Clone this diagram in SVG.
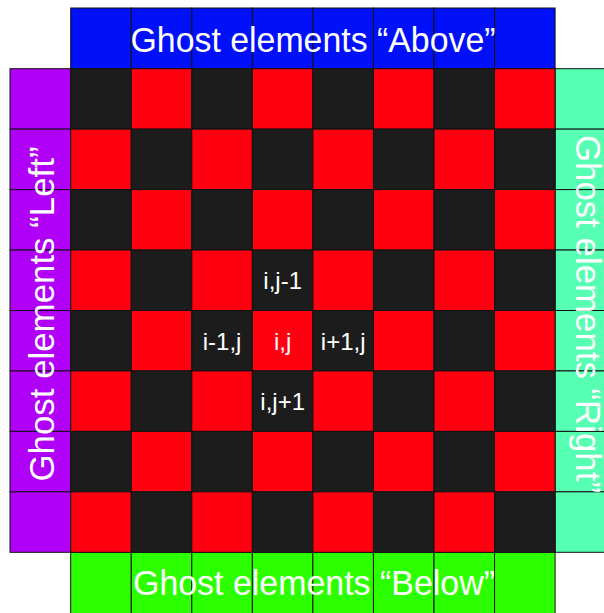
<svg xmlns="http://www.w3.org/2000/svg" width="604" height="613" viewBox="0 0 604 613">
  <style>
    .cell { stroke: #111; stroke-width: 1; }
    .blk { fill: #1c1c1c; }
    .red { fill: #ff0010; }
    .above { fill: #0010f8; stroke: #111; stroke-width: 1; }
    .below { fill: #2cff00; stroke: #111; stroke-width: 1; }
    .left { fill: #b000f8; stroke: #111; stroke-width: 1; }
    .right { fill: #57ffb2; stroke: #111; stroke-width: 1; }
    .ghost-label { font-family: "Liberation Sans", Arial, sans-serif; font-size: 35px; fill: #ffffff; text-anchor: middle; }
    .idx { font-family: "Liberation Sans", Arial, sans-serif; font-size: 24px; fill: #ffffff; text-anchor: middle; }
  </style>
  <rect width="604" height="613" fill="#ffffff"/>

  <!-- ghost row above the grid -->
  <g id="ghost-above">
    <rect class="above" x="70.7" y="8" width="60.55" height="60.7"/>
    <rect class="above" x="131.25" y="8" width="60.55" height="60.7"/>
    <rect class="above" x="191.8" y="8" width="60.55" height="60.7"/>
    <rect class="above" x="252.35" y="8" width="60.55" height="60.7"/>
    <rect class="above" x="312.9" y="8" width="60.55" height="60.7"/>
    <rect class="above" x="373.45" y="8" width="60.55" height="60.7"/>
    <rect class="above" x="434" y="8" width="60.55" height="60.7"/>
    <rect class="above" x="494.55" y="8" width="60.55" height="60.7"/>
    <text class="ghost-label" x="313" y="52" textLength="365" lengthAdjust="spacingAndGlyphs">Ghost elements “Above”</text>
  </g>

  <!-- ghost row below the grid -->
  <g id="ghost-below">
    <rect class="below" x="70.7" y="552.3" width="60.55" height="70"/>
    <rect class="below" x="131.25" y="552.3" width="60.55" height="70"/>
    <rect class="below" x="191.8" y="552.3" width="60.55" height="70"/>
    <rect class="below" x="252.35" y="552.3" width="60.55" height="70"/>
    <rect class="below" x="312.9" y="552.3" width="60.55" height="70"/>
    <rect class="below" x="373.45" y="552.3" width="60.55" height="70"/>
    <rect class="below" x="434" y="552.3" width="60.55" height="70"/>
    <rect class="below" x="494.55" y="552.3" width="60.55" height="70"/>
    <text class="ghost-label" x="314" y="595" textLength="362" lengthAdjust="spacingAndGlyphs">Ghost elements “Below”</text>
  </g>

  <!-- ghost column to the left -->
  <g id="ghost-left">
    <rect class="left" x="10" y="68.7" width="60.7" height="60.45"/>
    <rect class="left" x="10" y="129.15" width="60.7" height="60.45"/>
    <rect class="left" x="10" y="189.6" width="60.7" height="60.45"/>
    <rect class="left" x="10" y="250.05" width="60.7" height="60.45"/>
    <rect class="left" x="10" y="310.5" width="60.7" height="60.45"/>
    <rect class="left" x="10" y="370.95" width="60.7" height="60.45"/>
    <rect class="left" x="10" y="431.4" width="60.7" height="60.45"/>
    <rect class="left" x="10" y="491.85" width="60.7" height="60.45"/>
    <text class="ghost-label" transform="translate(53.5,314) rotate(-90)" x="0" y="0" textLength="335" lengthAdjust="spacingAndGlyphs">Ghost elements “Left”</text>
  </g>

  <!-- ghost column to the right -->
  <g id="ghost-right">
    <rect class="right" x="555.1" y="68.7" width="60" height="60.45"/>
    <rect class="right" x="555.1" y="129.15" width="60" height="60.45"/>
    <rect class="right" x="555.1" y="189.6" width="60" height="60.45"/>
    <rect class="right" x="555.1" y="250.05" width="60" height="60.45"/>
    <rect class="right" x="555.1" y="310.5" width="60" height="60.45"/>
    <rect class="right" x="555.1" y="370.95" width="60" height="60.45"/>
    <rect class="right" x="555.1" y="431.4" width="60" height="60.45"/>
    <rect class="right" x="555.1" y="491.85" width="60" height="60.45"/>
    <text class="ghost-label" transform="translate(576,314) rotate(90)" x="0" y="0" textLength="358" lengthAdjust="spacingAndGlyphs">Ghost elements “Right”</text>
  </g>

  <!-- 8x8 checkerboard of interior cells -->
  <g id="grid">
    <!-- row 0 -->
    <rect class="cell blk" x="70.7" y="68.7" width="60.55" height="60.45"/>
    <rect class="cell red" x="131.25" y="68.7" width="60.55" height="60.45"/>
    <rect class="cell blk" x="191.8" y="68.7" width="60.55" height="60.45"/>
    <rect class="cell red" x="252.35" y="68.7" width="60.55" height="60.45"/>
    <rect class="cell blk" x="312.9" y="68.7" width="60.55" height="60.45"/>
    <rect class="cell red" x="373.45" y="68.7" width="60.55" height="60.45"/>
    <rect class="cell blk" x="434" y="68.7" width="60.55" height="60.45"/>
    <rect class="cell red" x="494.55" y="68.7" width="60.55" height="60.45"/>
    <!-- row 1 -->
    <rect class="cell red" x="70.7" y="129.15" width="60.55" height="60.45"/>
    <rect class="cell blk" x="131.25" y="129.15" width="60.55" height="60.45"/>
    <rect class="cell red" x="191.8" y="129.15" width="60.55" height="60.45"/>
    <rect class="cell blk" x="252.35" y="129.15" width="60.55" height="60.45"/>
    <rect class="cell red" x="312.9" y="129.15" width="60.55" height="60.45"/>
    <rect class="cell blk" x="373.45" y="129.15" width="60.55" height="60.45"/>
    <rect class="cell red" x="434" y="129.15" width="60.55" height="60.45"/>
    <rect class="cell blk" x="494.55" y="129.15" width="60.55" height="60.45"/>
    <!-- row 2 -->
    <rect class="cell blk" x="70.7" y="189.6" width="60.55" height="60.45"/>
    <rect class="cell red" x="131.25" y="189.6" width="60.55" height="60.45"/>
    <rect class="cell blk" x="191.8" y="189.6" width="60.55" height="60.45"/>
    <rect class="cell red" x="252.35" y="189.6" width="60.55" height="60.45"/>
    <rect class="cell blk" x="312.9" y="189.6" width="60.55" height="60.45"/>
    <rect class="cell red" x="373.45" y="189.6" width="60.55" height="60.45"/>
    <rect class="cell blk" x="434" y="189.6" width="60.55" height="60.45"/>
    <rect class="cell red" x="494.55" y="189.6" width="60.55" height="60.45"/>
    <!-- row 3 -->
    <rect class="cell red" x="70.7" y="250.05" width="60.55" height="60.45"/>
    <rect class="cell blk" x="131.25" y="250.05" width="60.55" height="60.45"/>
    <rect class="cell red" x="191.8" y="250.05" width="60.55" height="60.45"/>
    <rect class="cell blk" x="252.35" y="250.05" width="60.55" height="60.45"/>
    <rect class="cell red" x="312.9" y="250.05" width="60.55" height="60.45"/>
    <rect class="cell blk" x="373.45" y="250.05" width="60.55" height="60.45"/>
    <rect class="cell red" x="434" y="250.05" width="60.55" height="60.45"/>
    <rect class="cell blk" x="494.55" y="250.05" width="60.55" height="60.45"/>
    <!-- row 4 -->
    <rect class="cell blk" x="70.7" y="310.5" width="60.55" height="60.45"/>
    <rect class="cell red" x="131.25" y="310.5" width="60.55" height="60.45"/>
    <rect class="cell blk" x="191.8" y="310.5" width="60.55" height="60.45"/>
    <rect class="cell red" x="252.35" y="310.5" width="60.55" height="60.45"/>
    <rect class="cell blk" x="312.9" y="310.5" width="60.55" height="60.45"/>
    <rect class="cell red" x="373.45" y="310.5" width="60.55" height="60.45"/>
    <rect class="cell blk" x="434" y="310.5" width="60.55" height="60.45"/>
    <rect class="cell red" x="494.55" y="310.5" width="60.55" height="60.45"/>
    <!-- row 5 -->
    <rect class="cell red" x="70.7" y="370.95" width="60.55" height="60.45"/>
    <rect class="cell blk" x="131.25" y="370.95" width="60.55" height="60.45"/>
    <rect class="cell red" x="191.8" y="370.95" width="60.55" height="60.45"/>
    <rect class="cell blk" x="252.35" y="370.95" width="60.55" height="60.45"/>
    <rect class="cell red" x="312.9" y="370.95" width="60.55" height="60.45"/>
    <rect class="cell blk" x="373.45" y="370.95" width="60.55" height="60.45"/>
    <rect class="cell red" x="434" y="370.95" width="60.55" height="60.45"/>
    <rect class="cell blk" x="494.55" y="370.95" width="60.55" height="60.45"/>
    <!-- row 6 -->
    <rect class="cell blk" x="70.7" y="431.4" width="60.55" height="60.45"/>
    <rect class="cell red" x="131.25" y="431.4" width="60.55" height="60.45"/>
    <rect class="cell blk" x="191.8" y="431.4" width="60.55" height="60.45"/>
    <rect class="cell red" x="252.35" y="431.4" width="60.55" height="60.45"/>
    <rect class="cell blk" x="312.9" y="431.4" width="60.55" height="60.45"/>
    <rect class="cell red" x="373.45" y="431.4" width="60.55" height="60.45"/>
    <rect class="cell blk" x="434" y="431.4" width="60.55" height="60.45"/>
    <rect class="cell red" x="494.55" y="431.4" width="60.55" height="60.45"/>
    <!-- row 7 -->
    <rect class="cell red" x="70.7" y="491.85" width="60.55" height="60.45"/>
    <rect class="cell blk" x="131.25" y="491.85" width="60.55" height="60.45"/>
    <rect class="cell red" x="191.8" y="491.85" width="60.55" height="60.45"/>
    <rect class="cell blk" x="252.35" y="491.85" width="60.55" height="60.45"/>
    <rect class="cell red" x="312.9" y="491.85" width="60.55" height="60.45"/>
    <rect class="cell blk" x="373.45" y="491.85" width="60.55" height="60.45"/>
    <rect class="cell red" x="434" y="491.85" width="60.55" height="60.45"/>
    <rect class="cell blk" x="494.55" y="491.85" width="60.55" height="60.45"/>
  </g>

  <!-- stencil labels around the centre cell -->
  <g id="stencil">
    <text class="idx" x="282.7" y="289">i,j-1</text>
    <text class="idx" x="222.1" y="350">i-1,j</text>
    <text class="idx" x="282.7" y="350">i,j</text>
    <text class="idx" x="343.2" y="350">i+1,j</text>
    <text class="idx" x="282.7" y="410">i,j+1</text>
  </g>
</svg>
